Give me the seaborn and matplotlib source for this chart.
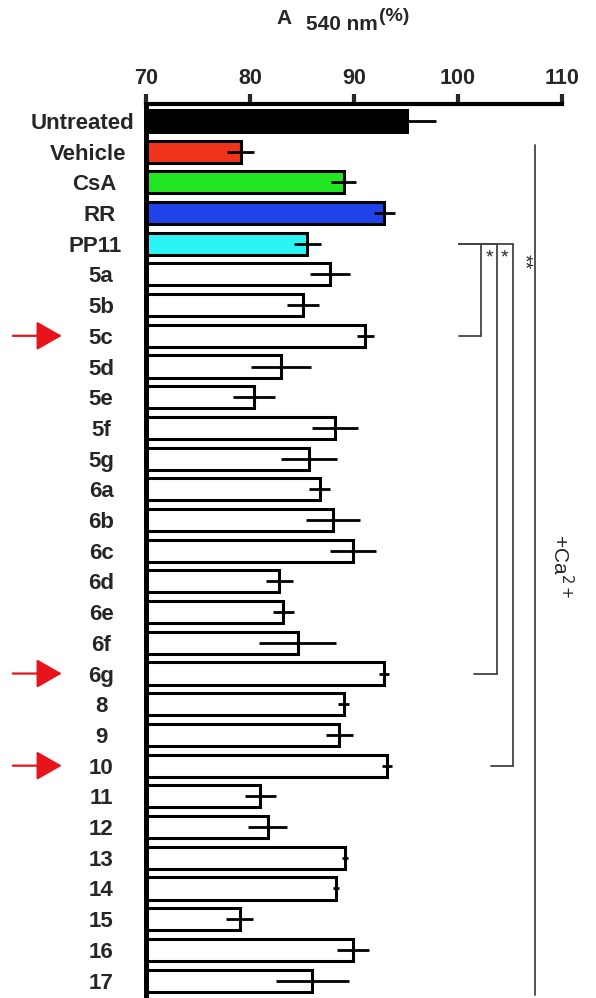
import numpy as np
import pandas as pd
import seaborn as sns
import matplotlib.pyplot as plt

# data
labels = ["Untreated", "Vehicle", "CsA", "RR", "PP11", "5a", "5b", "5c", "5d", "5e",
          "5f", "5g", "6a", "6b", "6c", "6d", "6e", "6f", "6g", "8", "9", "10",
          "11", "12", "13", "14", "15", "16", "17"]
values = [95.1, 79.1, 89.0, 92.9, 85.5, 87.7, 85.1, 91.1, 83.0, 80.4,
          88.2, 85.7, 86.7, 88.0, 89.9, 82.8, 83.2, 84.6, 92.9, 89.0, 88.6, 93.2,
          81.0, 81.7, 89.1, 88.3, 79.0, 89.9, 86.0]
errors = [2.8, 1.3, 1.2, 1.0, 1.3, 1.9, 1.5, 0.8, 2.9, 2.0,
          2.2, 2.7, 1.0, 2.6, 2.2, 1.3, 1.0, 3.7, 0.5, 0.5, 1.3, 0.5,
          1.5, 1.9, 0.3, 0.3, 1.3, 1.5, 3.5]
colors = ["#000000", "#f0341c", "#22e622", "#1f43e8", "#2af5f5"] + ["#ffffff"] * 24
arrow_rows = ["5c", "6g", "10"]
brackets = [("5c", 100.1, 102.2), ("6g", 101.5, 103.75), ("10", 103.2, 105.3)]

df = pd.DataFrame({"compound": labels, "A540": values})

sns.set_style("white")
plt.rcParams["font.family"] = ["Liberation Sans", "DejaVu Sans"]

fig = plt.figure(figsize=(5.96, 9.98), dpi=100)
ax = fig.add_axes([146 / 596, 0.003, 416 / 596, 0.8928])

sns.barplot(data=df, x="A540", y="compound", hue="compound", palette=colors,
            legend=False, orient="h", width=0.72, edgecolor="black",
            linewidth=2.2, saturation=1, ax=ax)
ax.errorbar(values, np.arange(len(labels)), xerr=errors, fmt="none",
            ecolor="black", elinewidth=2.0, capsize=0, zorder=5)

ax.set_xlim(70, 110)
ax.set_ylim(28.47, -0.55)
ax.set_xticks([70, 80, 90, 100, 110])
ax.xaxis.tick_top()
ax.tick_params(axis="x", direction="out", length=7, width=3, pad=4,
               labelsize=15.5)
for lab in ax.get_xticklabels():
    lab.set_fontweight("bold")
ax.set_xlabel("")
ax.set_ylabel("")

for s in ["bottom", "right"]:
    ax.spines[s].set_visible(False)
ax.spines["top"].set_linewidth(3)
ax.spines["left"].set_linewidth(3.6)
ax.spines["top"].set_color("black")
ax.spines["left"].set_color("black")

# y labels: centred column, long names pushed left of the axis
centres = {"Untreated": 83, "Vehicle": 88, "CsA": 94.5, "RR": 100, "PP11": 95.5}
ax.tick_params(axis="y", length=0, labelsize=16)
for tick, name in zip(ax.yaxis.get_major_ticks(), labels):
    c = centres.get(name, 101)
    tick.set_pad((146 - c) * 0.72)
    tick.label1.set_horizontalalignment("center")
    tick.label1.set_fontweight("bold")

# red arrows
for name in arrow_rows:
    r = labels.index(name)
    ax.annotate("", xy=(61.9, r), xytext=(57.2, r), annotation_clip=False,
                arrowprops=dict(arrowstyle="-|>,head_length=1.05,head_width=0.6",
                                mutation_scale=15, color="#e8141c", lw=1.6,
                                shrinkA=0, shrinkB=0))

# significance brackets
lc = "#444444"
top = labels.index("PP11")
for name, x0, xv in brackets:
    r = labels.index(name)
    ax.plot([100.1, xv], [top, top], color=lc, lw=1.3, clip_on=False)
    ax.plot([xv, xv], [top, r], color=lc, lw=1.3, clip_on=False)
    ax.plot([x0, xv], [r, r], color=lc, lw=1.3, clip_on=False)
ax.text(103.0, 4.45, "*", ha="center", va="center", fontsize=14)
ax.text(104.5, 4.45, "*", ha="center", va="center", fontsize=14)
ax.text(106.3, 4.6, "**", ha="center", va="center", fontsize=14, rotation=-90)

ax.plot([107.4, 107.4], [0.78, 28.47], color=lc, lw=1.3, clip_on=False)
ax.text(109.9, 14.5, r"+Ca$^{2+}$", ha="center", va="center", fontsize=15,
        rotation=-90)

# axis title
fig.text(276 / 596, 1 - 18 / 998, "A", ha="left", va="center", fontsize=15,
         fontweight="bold")
t540 = fig.text(306 / 596, 1 - 25 / 998, "540 nm", ha="left", va="center",
                fontsize=15, fontweight="bold")
ax.annotate("(%)", xy=(1, 0.5), xycoords=t540, xytext=(1, 6),
            textcoords="offset points", ha="left", va="center", fontsize=14,
            fontweight="bold", annotation_clip=False)

fig.savefig("out.png", dpi=100)
